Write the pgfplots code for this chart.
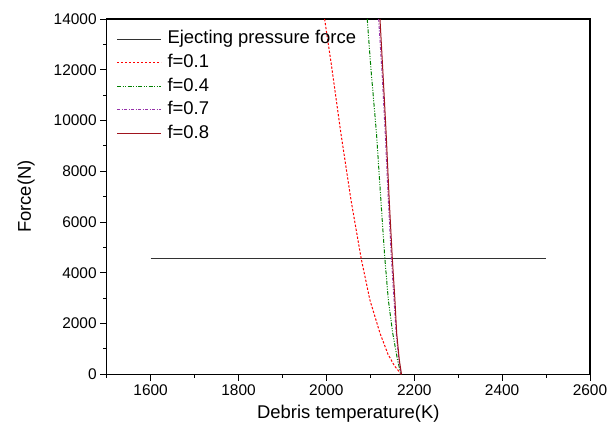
\documentclass[border=0pt]{standalone}
\usepackage{fontspec}
\setmainfont{Liberation Sans}
\usepackage{pgfplots}
\pgfplotsset{compat=1.18}

\definecolor{ejgray}{RGB}{50,50,50}
\definecolor{fgreen}{RGB}{0,128,0}
\definecolor{fpurple}{RGB}{150,50,170}
\definecolor{fwine}{RGB}{160,20,30}

\begin{document}
\begin{tikzpicture}
\useasboundingbox (-106.7bp,-57.7bp) rectangle (509.3bp,374.3bp);
\begin{axis}[
  at={(0,0)}, anchor=south west,
  scale only axis,
  width=483.3bp, height=355.3bp,
  xmin=1500, xmax=2600, ymin=0, ymax=14000,
  xtick={1600,1800,...,2600},
  minor xtick={1500,1700,...,2500},
  ytick={0,2000,...,14000},
  minor ytick={1000,3000,...,13000},
  xtick pos=bottom, ytick pos=left,
  tick align=outside,
  major tick length=6.5bp, minor tick length=3.5bp,
  every tick/.style={black, line width=0.9bp},
  axis line style={line width=1.1bp},
  scaled ticks=false,
  /pgf/number format/assume math mode=true,
  /pgf/number format/1000 sep={},
  tick label style={font=\fontsize{15.5}{17}\selectfont},
  xlabel={Debris temperature(K)},
  ylabel={Force(N)},
  label style={font=\fontsize{18.5}{20}\selectfont},
  xlabel style={at={(axis description cs:0.5,-0.123)}, anchor=base},
  ylabel style={at={(axis description cs:-0.167,0.5)}, anchor=center},
  legend cell align=left,
  legend style={draw=none, fill=none, at={(axis description cs:0.02,0.967)}, anchor=north west,
    font=\fontsize{18.5}{20}\selectfont, inner sep=0pt, row sep=6.6bp,
    nodes={inner sep=0pt, text height=13bp, text depth=4bp}},
  legend image code/.code={\draw[#1] (0bp,0.3bp) -- (44bp,0.3bp);},
  legend columns=1,
]
\addplot[ejgray, line width=1bp] coordinates {(1600,4550) (2500,4550)};
\addlegendentry{\hspace{6bp}Ejecting pressure force}
\addplot[red, line width=1bp, dash pattern=on 2.3bp off 1.7bp] coordinates {
(1996,14000) (2012,12120) (2033,9500) (2056,6870) (2079,4580) (2099,2930) (2122,1620) (2140,800) (2155,330) (2166,100) (2170,0)};
\addlegendentry{\hspace{6bp}f=0.1}
\addplot[fgreen, line width=1bp, dash pattern=on 4bp off 1.5bp on 1bp off 1.5bp on 1bp off 1.5bp] coordinates {
(2093,14000) (2101,12120) (2114,9500) (2124,6870) (2133,4580) (2141,2930) (2151,1620) (2162,560) (2169,50) (2170,0)};
\addlegendentry{\hspace{6bp}f=0.4}
\addplot[fpurple, line width=1bp, dash pattern=on 3bp off 1.5bp on 1bp off 1.5bp] coordinates {
(2119,14000) (2127,11800) (2134,9500) (2141,6870) (2148,4580) (2154,2930) (2159,1620) (2165,560) (2170,0)};
\addlegendentry{\hspace{6bp}f=0.7}
\addplot[fwine, line width=1bp] coordinates {
(2122,14000) (2129,11800) (2136,9500) (2143,6870) (2150,4580) (2156,2930) (2160,1620) (2166,560) (2171,0)};
\addlegendentry{\hspace{6bp}f=0.8}
\end{axis}
\end{tikzpicture}
\end{document}
